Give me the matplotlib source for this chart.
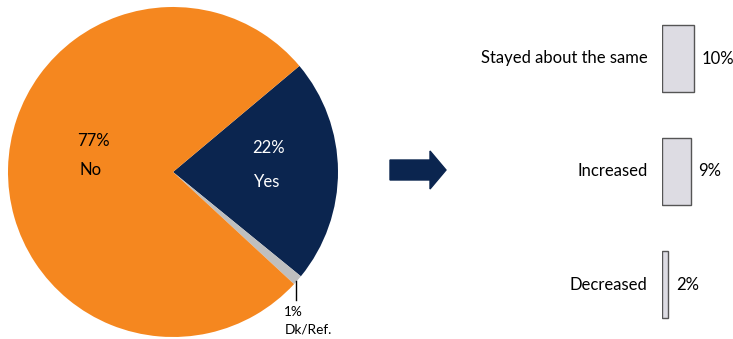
import matplotlib
matplotlib.use("Agg")
import matplotlib.pyplot as plt
from matplotlib.patches import FancyArrow

plt.rcParams['font.family'] = ['Lato', 'DejaVu Sans']

pie_labels = ["Yes", "Dk/Ref.", "No"]
pie_values = [22, 1, 77]
pie_colors = ["#0B254F", "#BFBFBF", "#F5871F"]

bar_categories = ["Stayed about the same", "Increased", "Decreased"]
bar_values = [10, 9, 2]

W, H = 733, 339
fig = plt.figure(figsize=(W / 100, H / 100), dpi=100)

# Pie
cx, cy, r = 173, 172, 165
ax = fig.add_axes([(cx - r) / W, (H - cy - r) / H, 2 * r / W, 2 * r / H])
ax.pie(pie_values, colors=pie_colors, startangle=40, counterclock=False,
       radius=1, wedgeprops=dict(linewidth=0))
ax.set_xlim(-1, 1)
ax.set_ylim(-1, 1)
ax.set_aspect('equal')
ax.axis('off')

fs = 12
ax.text(-0.48, 0.19, f"{pie_values[2]}%", color="black", fontsize=fs, ha='center', va='center')
ax.text(-0.50, 0.01, pie_labels[2], color="black", fontsize=fs, ha='center', va='center')
ax.text(0.58, 0.145, f"{pie_values[0]}%", color="white", fontsize=fs, ha='center', va='center')
ax.text(0.57, -0.06, pie_labels[0], color="white", fontsize=fs, ha='center', va='center')
ax.plot([0.745, 0.745], [-0.66, -0.775], color="black", lw=1, clip_on=False)
ax.text(0.675, -0.85, f"{pie_values[1]}%", color="black", fontsize=9.8, ha='left', va='center', clip_on=False)
ax.text(0.675, -0.955, pie_labels[1], color="black", fontsize=9.8, ha='left', va='center', clip_on=False)

# Arrow
fig.add_artist(FancyArrow(390, H - 170, 56, 0, width=20, head_width=38, head_length=16,
                          length_includes_head=True, color="#0B254F",
                          transform=None))

# Bars
bl = 662
scale = 3.2  # px per percent
bw = 70
bax = fig.add_axes([bl / W, -2 / H, bw / W, 1.0])
ypos = list(range(len(bar_categories)))
bax.barh(ypos, bar_values, height=0.585, color="#DDDCE3", edgecolor="#555555", linewidth=1)
bax.set_xlim(0, bw / scale)
bax.set_ylim(2.5, -0.5)
bax.axis('off')
for y, c, v in zip(ypos, bar_categories, bar_values):
    bax.text(-4.5, y, c, fontsize=fs, ha='right', va='center')
    bax.text(v + 2.3, y, f"{v}%", fontsize=fs, ha='left', va='center')

fig.savefig("out.png", dpi=100)
